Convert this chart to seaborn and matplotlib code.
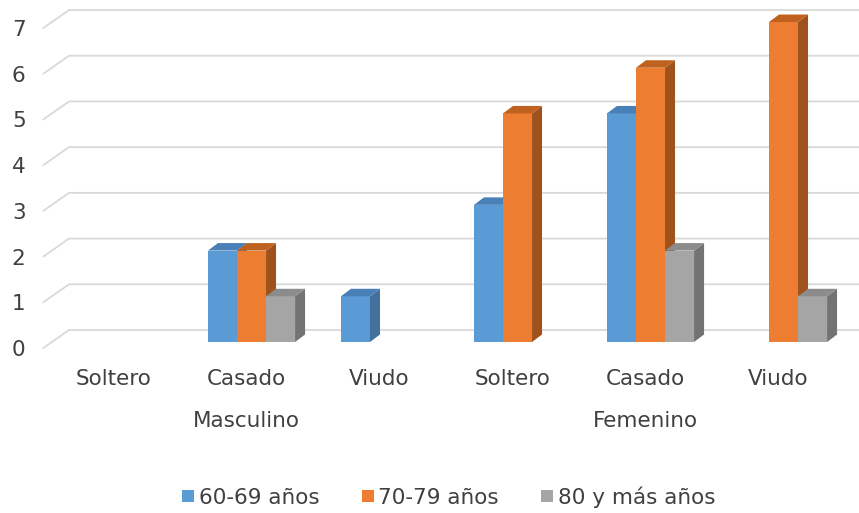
import matplotlib
matplotlib.use("Agg")
import matplotlib.pyplot as plt
import matplotlib.transforms as mtransforms
import numpy as np
import pandas as pd
import seaborn as sns
from matplotlib.lines import Line2D
from matplotlib.patches import Polygon

GROUPS = ["Masculino", "Masculino", "Masculino", "Femenino", "Femenino", "Femenino"]
ESTADOS = ["Soltero", "Casado", "Viudo", "Soltero", "Casado", "Viudo"]
EDADES = ["60-69 años", "70-79 años", "80 y más años"]
V60 = [0, 2, 1, 3, 5, 0]
V70 = [0, 2, 0, 5, 6, 7]
V80 = [0, 1, 0, 0, 2, 1]

FRONT = {"60-69 años": "#5B9BD5", "70-79 años": "#ED7D31", "80 y más años": "#A5A5A5"}
SIDE = {"60-69 años": "#41719C", "70-79 años": "#A0521D", "80 y más años": "#737373"}
TOP = {"60-69 años": "#4A80B8", "70-79 años": "#C0621F", "80 y más años": "#8C8C8C"}

DPI = 100
DEPTH = (10, 7.5)        # bar depth in pixels
WALL = (17, 12)          # back wall offset from bar front
FLOOR = (-8.7, -6)       # front edge of floor
FS = 15.5
TXT = "#404040"

sns.set_theme(style="white")
plt.rcParams["font.family"] = ["DejaVu Sans"]

df = pd.DataFrame({
    "pos": np.repeat(np.arange(len(ESTADOS)), 3),
    "edad": EDADES * len(ESTADOS),
    "valor": np.ravel(np.column_stack([V60, V70, V80])),
})

fig = plt.figure(figsize=(859 / DPI, 513 / DPI), dpi=DPI)
W, H = 859, 513
ppu = 45.71
ylo, yhi = -0.5, 7.3
bottom_px = (513 - 342) - (0 - ylo) * ppu
ax = fig.add_axes([52 / W, bottom_px / H, 798 / W, (yhi - ylo) * ppu / H])

sns.barplot(data=df, x="pos", y="valor", hue="edad", hue_order=EDADES,
            palette=FRONT, width=0.655, gap=0, saturation=1, linewidth=0,
            legend=False, ax=ax)
ax.set_xlim(-0.5, 5.5)
ax.set_ylim(ylo, yhi)
for s in ax.spines.values():
    s.set_visible(False)
ax.set_xlabel("")
ax.set_ylabel("")

def off(dx, dy):
    return mtransforms.offset_copy(ax.transData, fig=fig, x=dx, y=dy, units="dots")

# perspective grid
wall_t = off(*WALL)
for k in range(8):
    p_floor = off(*FLOOR).transform((-0.5, k))
    p_wall = wall_t.transform((-0.5, k))
    p_end = wall_t.transform((5.6, k))
    ax.plot([p_floor[0], p_wall[0], p_end[0]], [p_floor[1], p_wall[1], p_end[1]],
            transform=None, color="#D9D9D9", lw=1.3, zorder=0.5, clip_on=False)

# 3D faces
bars = sorted([p for p in ax.patches if p.get_height() > 0], key=lambda p: p.get_x())
dx, dy = DEPTH
hex_to_edad = {v.upper(): k for k, v in FRONT.items()}
for i, bar in enumerate(bars):
    z = 2 + 0.01 * i
    bar.set_zorder(z)
    edad = hex_to_edad[matplotlib.colors.to_hex(bar.get_facecolor()).upper()]
    x0, x1 = bar.get_x(), bar.get_x() + bar.get_width()
    h = bar.get_height()
    (a0, b0), (a1, b1) = ax.transData.transform([(x0, 0), (x1, h)])
    side = Polygon([(a1, b0), (a1, b1), (a1 + dx, b1 + dy), (a1 + dx, b0 + dy)],
                   closed=True, transform=None, facecolor=SIDE[edad], lw=0, zorder=z)
    top = Polygon([(a0, b1), (a1, b1), (a1 + dx, b1 + dy), (a0 + dx, b1 + dy)],
                  closed=True, transform=None, facecolor=TOP[edad], lw=0, zorder=z)
    ax.add_patch(side)
    ax.add_patch(top)

# axis labels
ax.set_yticks(range(8))
ax.set_yticklabels([str(k) for k in range(8)], fontsize=FS, color=TXT)
ax.tick_params(axis="y", length=0, pad=19)
ax.set_xticks(range(len(ESTADOS)))
ax.set_xticklabels(ESTADOS, fontsize=FS, color=TXT)
ax.tick_params(axis="x", length=0, pad=3)
shift_x = mtransforms.ScaledTranslation(-5 / DPI, 0, fig.dpi_scale_trans)
for lab in ax.get_xticklabels():
    lab.set_transform(lab.get_transform() + shift_x)
shift_y = mtransforms.ScaledTranslation(0, -6 / DPI, fig.dpi_scale_trans)
for lab in ax.get_yticklabels():
    lab.set_transform(lab.get_transform() + shift_y)

grp_t = mtransforms.blended_transform_factory(ax.transData, fig.transFigure)
for g in dict.fromkeys(GROUPS):
    idx = [i for i, gg in enumerate(GROUPS) if gg == g]
    ax.text(np.mean(idx), (513 - 421) / H, g,
            transform=grp_t + mtransforms.ScaledTranslation(-5 / DPI, 0, fig.dpi_scale_trans),
            ha="center", va="center", fontsize=FS, color=TXT)

handles = [Line2D([0], [0], marker="s", color="none", markerfacecolor=FRONT[e],
                  markeredgewidth=0, markersize=8) for e in EDADES]
fig.legend(handles, EDADES, loc="center", bbox_to_anchor=(448 / W, 16 / H), ncol=3,
           frameon=False, fontsize=FS, handletextpad=0.15, columnspacing=1.9,
           handlelength=0.7, labelcolor=TXT)

fig.savefig("out.png", dpi=DPI, facecolor="white")
